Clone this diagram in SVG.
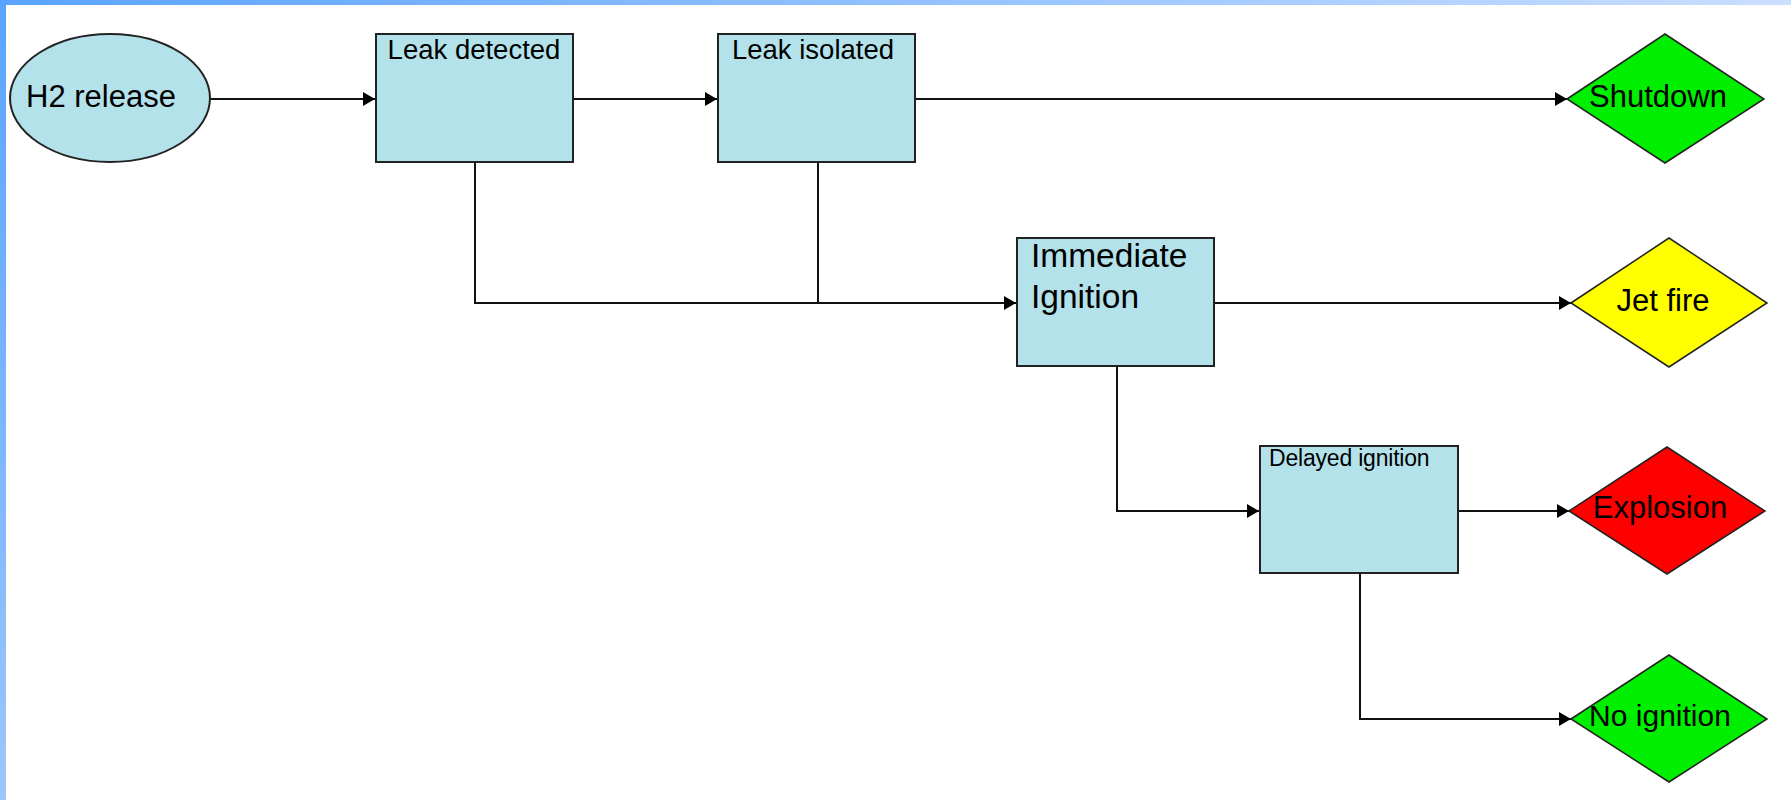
<svg xmlns="http://www.w3.org/2000/svg" width="1791" height="800" viewBox="0 0 1791 800">
<defs>
<linearGradient id="topbar" x1="0" y1="0" x2="1" y2="0">
<stop offset="0" stop-color="#5aa4ff"/>
<stop offset="1" stop-color="#cadeff"/>
</linearGradient>
<linearGradient id="leftbar" x1="0" y1="0" x2="0" y2="1">
<stop offset="0" stop-color="#5aa4ff"/>
<stop offset="1" stop-color="#9cc6ff"/>
</linearGradient>
<marker id="arr" markerUnits="userSpaceOnUse" markerWidth="12" markerHeight="14" refX="12" refY="7" orient="auto">
<path d="M0,0 L12,7 L0,14 z" fill="#000"/>
</marker>
</defs>
<style>
.box{fill:#b4e2ea;stroke:#222;stroke-width:2}
.dia{stroke:#222;stroke-width:1.5}
.con{fill:none;stroke:#111;stroke-width:2}
.t{font-family:"Liberation Sans",Arial,sans-serif;fill:#000}
</style>
<rect x="0" y="0" width="1791" height="800" fill="#fff"/>
<rect x="0" y="0" width="1791" height="5" fill="url(#topbar)"/>
<rect x="0" y="0" width="6" height="800" fill="url(#leftbar)"/>

<g id="connectors">
<line class="con" x1="210" y1="99" x2="375" y2="99" marker-end="url(#arr)"/>
<line class="con" x1="574" y1="99" x2="717" y2="99" marker-end="url(#arr)"/>
<line class="con" x1="916" y1="99" x2="1567" y2="99" marker-end="url(#arr)"/>
<polyline class="con" points="475,163 475,303 1016,303" marker-end="url(#arr)"/>
<line class="con" x1="818" y1="163" x2="818" y2="303"/>
<line class="con" x1="1214" y1="303" x2="1571" y2="303" marker-end="url(#arr)"/>
<polyline class="con" points="1117,366 1117,511 1259,511" marker-end="url(#arr)"/>
<line class="con" x1="1458" y1="511" x2="1569" y2="511" marker-end="url(#arr)"/>
<polyline class="con" points="1360,574 1360,719 1571,719" marker-end="url(#arr)"/>
</g>

<g id="h2-release">
<ellipse class="box" cx="110" cy="98" rx="100" ry="64" stroke-width="1.5"/>
<text class="t" x="101" y="107" font-size="31" text-anchor="middle">H2 release</text>
</g>
<g id="leak-detected">
<rect class="box" x="376" y="34" width="197" height="128"/>
<text class="t" x="474" y="59" font-size="27.5" text-anchor="middle">Leak detected</text>
</g>
<g id="leak-isolated">
<rect class="box" x="718" y="34" width="197" height="128"/>
<text class="t" x="813" y="59" font-size="27.5" text-anchor="middle">Leak isolated</text>
</g>
<g id="immediate-ignition">
<rect class="box" x="1017" y="238" width="197" height="128"/>
<text class="t" x="1031" y="267" font-size="33.5">Immediate</text>
<text class="t" x="1031" y="308" font-size="33.5">Ignition</text>
</g>
<g id="delayed-ignition">
<rect class="box" x="1260" y="446" width="198" height="127"/>
<text class="t" x="1269" y="466" font-size="23" letter-spacing="-0.2">Delayed ignition</text>
</g>
<g id="shutdown">
<polygon class="dia" points="1567,99 1665,34 1764,99 1665,163" fill="#00ee00"/>
<text class="t" x="1658" y="107" font-size="31" text-anchor="middle">Shutdown</text>
</g>
<g id="jet-fire">
<polygon class="dia" points="1571,303 1669,238 1767,303 1669,367" fill="#ffff00"/>
<text class="t" x="1663" y="311" font-size="31" text-anchor="middle">Jet fire</text>
</g>
<g id="explosion">
<polygon class="dia" points="1569,511 1667,447 1765,511 1667,574" fill="#ff0000"/>
<text class="t" x="1660" y="518" font-size="31" text-anchor="middle">Explosion</text>
</g>
<g id="no-ignition">
<polygon class="dia" points="1571,719 1669,655 1767,719 1669,782" fill="#00ee00"/>
<text class="t" x="1660" y="726" font-size="30" text-anchor="middle">No ignition</text>
</g>
</svg>
